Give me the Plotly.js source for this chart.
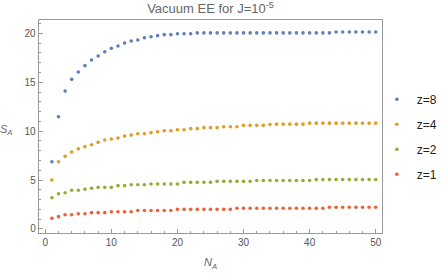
<!DOCTYPE html>
<html><head><meta charset="utf-8">
<script src="https://cdn.plot.ly/plotly-3.0.1.min.js"></script>
<style>html,body{margin:0;padding:0;background:#fff}#c{width:445px;height:273px}</style>
</head><body><div id="c"></div>
<script>
const NA = Array.from({length:50},(_,i)=>i+1);
const z8 = [6.88,11.48,14.1,15.3,16.05,16.7,17.28,17.69,18.13,18.47,18.71,19.02,19.22,19.32,19.56,19.66,19.77,19.87,19.87,19.97,19.97,19.97,20.05,20.05,20.05,20.05,20.05,20.05,20.05,20.05,20.05,20.05,20.05,20.05,20.05,20.05,20.05,20.05,20.05,20.05,20.05,20.05,20.05,20.15,20.15,20.15,20.15,20.15,20.15,20.15];
const z4 = [5.01,6.88,7.43,7.87,8.21,8.42,8.62,8.86,9.1,9.2,9.3,9.5,9.6,9.74,9.74,9.85,9.95,10.05,10.05,10.15,10.15,10.26,10.26,10.36,10.36,10.36,10.46,10.46,10.46,10.6,10.6,10.6,10.6,10.68,10.72,10.72,10.72,10.72,10.72,10.82,10.82,10.82,10.82,10.82,10.82,10.82,10.82,10.82,10.82,10.82];
const z2 = [3.2,3.61,3.71,3.96,3.96,4.06,4.16,4.26,4.26,4.26,4.43,4.43,4.53,4.53,4.53,4.6,4.6,4.6,4.6,4.6,4.77,4.77,4.77,4.77,4.77,4.87,4.87,4.87,4.87,4.87,4.87,4.96,4.96,4.96,4.96,4.96,4.96,4.96,4.96,4.96,5.05,5.05,5.05,5.05,5.05,5.05,5.05,5.05,5.05,5.05];
const z1 = [1.09,1.26,1.46,1.46,1.56,1.56,1.67,1.67,1.67,1.77,1.77,1.77,1.77,1.89,1.89,1.89,1.89,1.89,1.89,2.01,2.01,2.01,2.01,2.01,2.01,2.01,2.01,2.01,2.12,2.12,2.12,2.12,2.12,2.12,2.12,2.12,2.12,2.12,2.12,2.12,2.12,2.12,2.22,2.22,2.22,2.22,2.22,2.22,2.22,2.22];
const names = ['z=8','z=4','z=2','z=1'];
const series = [z8,z4,z2,z1];
const colors = ['#5E81B5','#E19C24','#8FB032','#EB6235'];
const traces = series.map((s,i)=>({x:NA,y:s,type:'scatter',mode:'markers',name:names[i],legendgroup:'g'+i,
  marker:{color:colors[i],size:3.6}}));
const axc = '#999999';
const layout = {
  width:445,height:273,margin:{l:39,r:63,t:20,b:40,autoexpand:false},
  paper_bgcolor:'#fff',plot_bgcolor:'#fff',
  font:{family:'Liberation Sans, Arial, sans-serif',size:10,color:'#555'},
  title:{text:'Vacuum EE for J=10<sup>-5</sup>',x:0.473,xanchor:'center',y:0.985,yanchor:'top',font:{size:13,color:'#666'}},
  xaxis:{range:[-0.95,50.95],showgrid:false,zeroline:false,showline:true,linecolor:axc,linewidth:1.3,mirror:true,
    ticks:'inside',ticklen:4,tickcolor:axc,dtick:10,tick0:0,
    minor:{dtick:2,ticks:'inside',ticklen:2,tickcolor:axc},
    title:{text:'<i>N<sub>A</sub></i>',standoff:11,font:{size:11,color:'#666'}}},
  yaxis:{range:[-0.41,21.37],showgrid:false,zeroline:false,showline:true,linecolor:axc,linewidth:1.3,mirror:true,
    ticks:'inside',ticklen:4,tickcolor:axc,dtick:5,tick0:0,
    minor:{dtick:1,ticks:'inside',ticklen:2,tickcolor:axc}},
  showlegend:true,
  legend:{x:0.985,xanchor:'left',y:0.696,yanchor:'top',tracegroupgap:6,font:{size:12,color:'#222'},bgcolor:'rgba(0,0,0,0)'},
  annotations:[{text:'<i>S<sub>A</sub></i>',xref:'paper',yref:'paper',x:-0.097,y:0.485,xanchor:'center',yanchor:'middle',showarrow:false,font:{size:11,color:'#666'}}]
};
Plotly.newPlot('c',traces,layout,{displayModeBar:false,staticPlot:true});
</script></body></html>
